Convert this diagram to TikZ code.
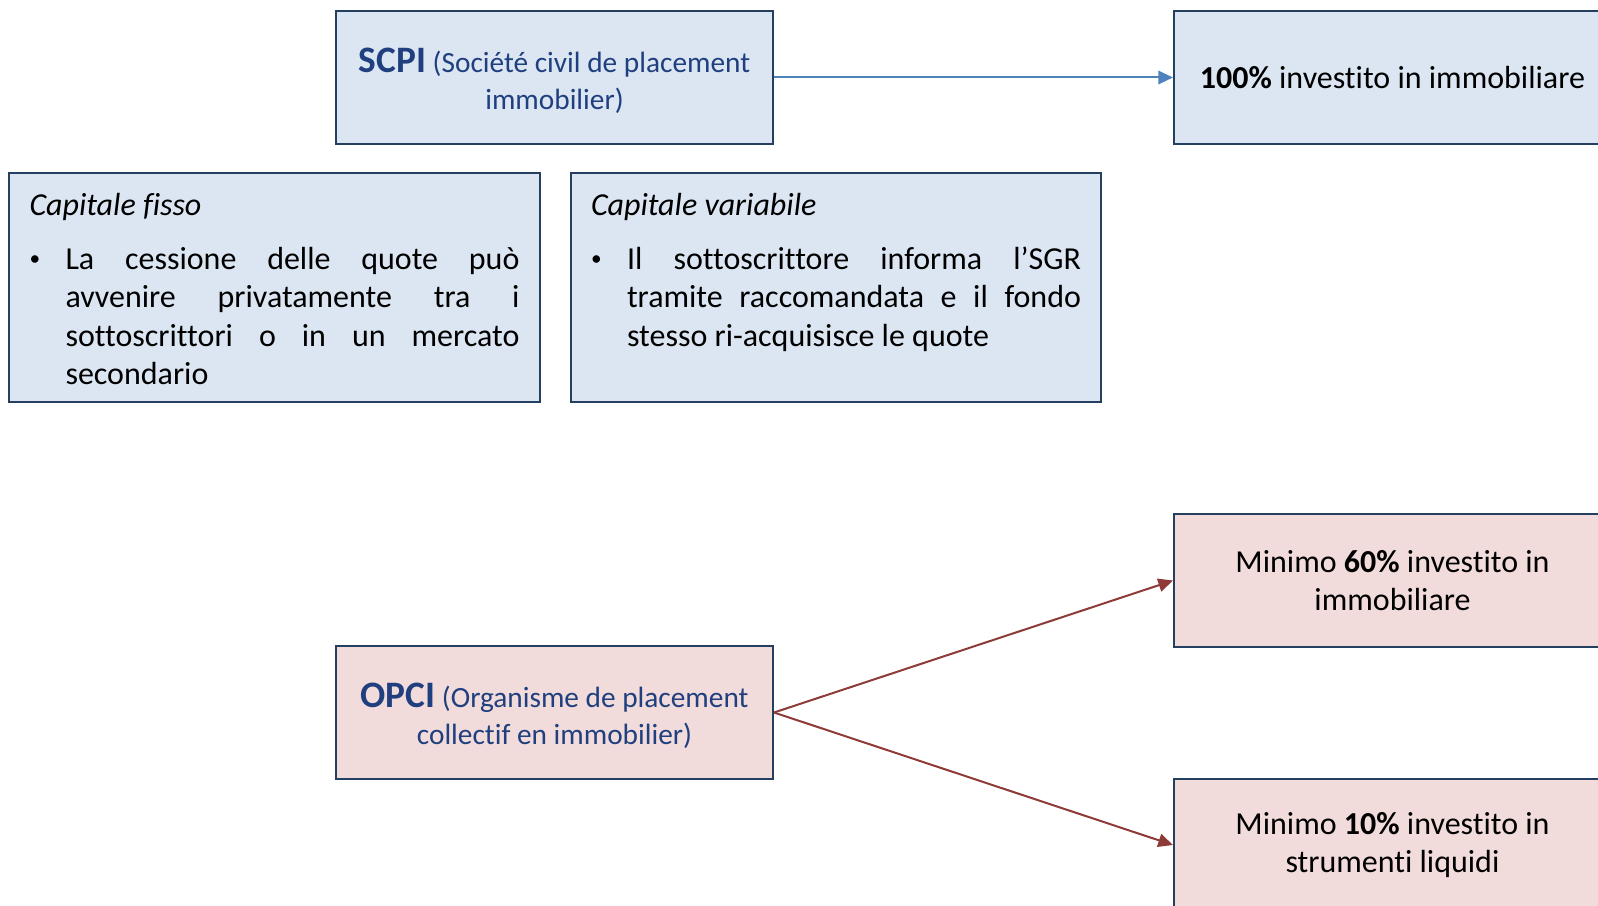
\documentclass[tikz,border=0pt]{standalone}
\usepackage{fontspec}
\setmainfont{Carlito}[Ligatures=NoCommon]
\usetikzlibrary{arrows.meta,positioning}
\definecolor{scpiblue}{HTML}{DCE6F2}
\definecolor{opcipink}{HTML}{F2DCDB}
\definecolor{boxline}{HTML}{243F60}
\definecolor{titlenavy}{HTML}{1F3F7F}
\definecolor{arrowblue}{HTML}{4F81BD}
\definecolor{arrowred}{HTML}{8E3B38}

% bullet paragraph with hanging indent
\newcommand{\puntata}[1]{\par\vspace{11.7pt}\hangindent=27pt\hangafter=1\noindent
    \makebox[27pt][l]{\raisebox{2.6pt}{\fontsize{16}{16}\selectfont\textbullet}}#1}

\begin{document}
\begin{tikzpicture}[
    x=0.75pt, y=-0.75pt,
    box/.style={draw=boxline, line width=1.5pt, align=center, inner sep=4pt,
        minimum width=327.75pt, minimum height=99.75pt,
        font=\fontsize{24}{28.8}\selectfont},
    titlebox/.style={box, text=titlenavy, font=\fontsize{22}{27.5}\selectfont},
    notebox/.style={draw=boxline, line width=1.5pt, fill=scpiblue, inner ysep=12pt,
        font=\fontsize{24}{28.8}\selectfont},
    link/.style={-{Triangle[length=11pt, width=10pt]}, line width=1.5pt}
]
\useasboundingbox (0,0) rectangle (1598,906);
\clip (0,0) rectangle (1598,906);

% SCPI
\node[titlebox, fill=scpiblue] (scpi) at (554.5,77.5)
    {\rule{0pt}{23pt}{\fontsize{28}{27.5}\selectfont\bfseries SCPI} (Société civil de placement\\immobilier)};
\node[box, fill=scpiblue] (cento) at (1392.5,77.5)
    {\textbf{100\%} investito in immobiliare};

\node[notebox, inner xsep=15.375pt] (fisso) at (274.5,287.5) {%
    \parbox[c][147.75pt][t]{367.5pt}{\tolerance=10000 \hbadness=10000
    \hyphenpenalty=10000 \exhyphenpenalty=10000
    \vspace*{3pt}{\itshape Capitale fisso}%
    \puntata{La cessione delle quote può\linebreak avvenire privatamente tra i\linebreak
    sottoscrittori o in un mercato\linebreak secondario}}};
\node[notebox, inner xsep=15pt] (variabile) at (836,287.5) {%
    \parbox[c][147.75pt][t]{367.5pt}{\tolerance=10000 \hbadness=10000
    \hyphenpenalty=10000 \exhyphenpenalty=10000
    \vspace*{3pt}{\itshape Capitale variabile}%
    \puntata{Il sottoscrittore informa l’SGR\linebreak tramite raccomandata e il fondo\linebreak
    stesso ri-acquisisce le quote}}};

% OPCI
\node[titlebox, fill=opcipink] (opci) at (554.5,712.5)
    {\rule{0pt}{23pt}{\fontsize{28}{27.5}\selectfont\bfseries OPCI} (Organisme de placement\\collectif en immobilier)};
\node[box, fill=opcipink] (sessanta) at (1392.5,580.5)
    {Minimo \textbf{60\%} investito in\\immobiliare};
\node[box, fill=opcipink] (dieci) at (1392.5,845)
    {Minimo \textbf{10\%} investito in\\strumenti liquidi};

\draw[link, arrowblue] (scpi.east) -- (cento.west);
\draw[link, arrowred] (opci.east) -- (sessanta.west);
\draw[link, arrowred] (opci.east) -- (dieci.west);

\end{tikzpicture}
\end{document}
